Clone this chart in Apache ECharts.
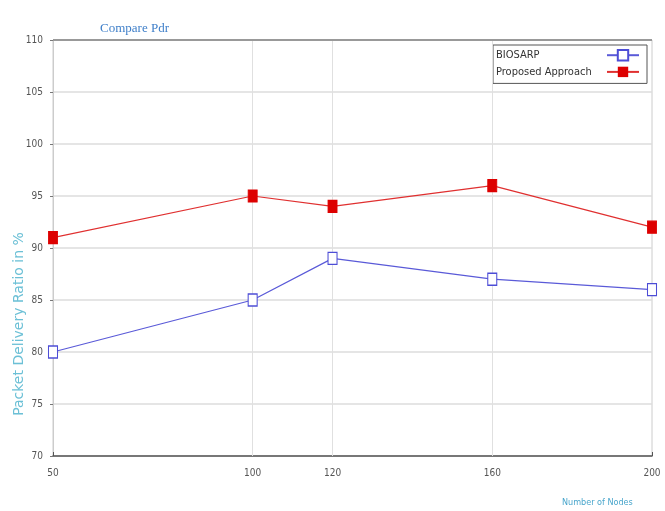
<!DOCTYPE html>
<html>
<head>
<meta charset="utf-8">
<script src="https://cdn.jsdelivr.net/npm/echarts@6/dist/echarts.min.js"></script>
<style>
  html, body { margin: 0; padding: 0; background: #fff; }
  #chart { width: 665px; height: 511px; }
</style>
</head>
<body>
<div id="chart"></div>
<script>
// Number of nodes on the x axis
const nodeCounts = [50, 100, 120, 160, 200];
// Packet delivery ratio (%) per protocol
const biosarpPdr = [80, 85, 89, 87, 86];
const proposedPdr = [91, 95, 94, 96, 92];
// Tick values
const xTicks = [50, 100, 120, 160, 200];

const narrow = '"DejaVu Sans Condensed", "Liberation Sans", sans-serif';
const pairs = (xs, ys) => xs.map((x, i) => [x, ys[i]]);

const chart = echarts.init(document.getElementById('chart'));
chart.setOption({
  animation: false,
  backgroundColor: '#ffffff',
  title: {
    text: 'Compare Pdr',
    left: 95,
    top: 17,
    textStyle: { fontFamily: 'Liberation Serif', fontWeight: 'normal', fontSize: 13, color: '#3f7fc9' }
  },
  legend: {
    left: 493,
    top: 45,
    orient: 'vertical',
    align: 'right',
    itemWidth: 32,
    itemHeight: 13,
    itemGap: 5,
    padding: [4, 7, 6, 3],
    borderColor: '#555',
    borderWidth: 1,
    backgroundColor: '#fff',
    formatter: name => '{t|' + name + '}',
    textStyle: {
      fontFamily: narrow, fontSize: 11, color: '#333',
      rich: { t: { width: 106, align: 'left', fontFamily: narrow, fontSize: 11, color: '#333' } }
    },
    data: ['BIOSARP', 'Proposed Approach']
  },
  grid: { left: 53, right: 13, top: 40, bottom: 55, show: true, borderColor: '#ccc', borderWidth: 1 },
  graphic: [
    {
      type: 'text', x: 562, y: 498, silent: true,
      style: { text: 'Number of Nodes', fill: '#4aa6cc', font: '9px ' + narrow }
    },
    {
      type: 'text', x: 19, y: 324, rotation: Math.PI / 2, silent: true,
      style: { text: 'Packet Delivery Ratio in %', fill: '#6cc0d6', font: '14px "DejaVu Sans", sans-serif', align: 'center', verticalAlign: 'middle' }
    }
  ],
  xAxis: {
    type: 'value',
    min: 50,
    max: 200,
    axisLine: { show: true, lineStyle: { color: '#555', width: 1.5 } },
    axisTick: { show: true, inside: true, length: 4, customValues: xTicks, lineStyle: { color: '#555' } },
    axisLabel: { customValues: xTicks, color: '#555', fontSize: 10, fontFamily: narrow, margin: 12 },
    splitLine: { show: false }
  },
  yAxis: {
    type: 'value',
    min: 70,
    max: 110,
    interval: 5,
    axisLine: { show: true, lineStyle: { color: '#ccc' } },
    axisTick: { show: true, inside: false, length: 3, lineStyle: { color: '#777' } },
    axisLabel: { color: '#555', fontSize: 10, fontFamily: narrow, margin: 10 },
    splitLine: { show: true, lineStyle: { color: '#dcdcdc', width: 1.5 } }
  },
  series: [
    {
      // vertical grid lines at the labelled node counts, and the top frame line
      type: 'line',
      data: [],
      silent: true,
      z: 1,
      markLine: {
        silent: true,
        symbol: 'none',
        label: { show: false },
        data: [
          ...xTicks.slice(1, 4).map(v => ({ xAxis: v, lineStyle: { color: '#e0e0e0', type: 'solid', width: 1 } })),
          { yAxis: 110, lineStyle: { color: '#999', type: 'solid', width: 2 } }
        ]
      }
    },
    {
      name: 'BIOSARP',
      type: 'line',
      zlevel: 1,
      data: pairs(nodeCounts, biosarpPdr),
      symbol: 'rect',
      symbolSize: [9, 12],
      itemStyle: { color: '#ffffff', borderColor: '#4d4dd6', borderWidth: 1.2 },
      lineStyle: { color: '#5a5ad8', width: 1.2 },
      z: 3
    },
    {
      name: 'Proposed Approach',
      type: 'line',
      zlevel: 1,
      data: pairs(nodeCounts, proposedPdr),
      symbol: 'rect',
      symbolSize: [9, 12],
      itemStyle: { color: '#dd0000', borderColor: '#dd0000' },
      lineStyle: { color: '#e03030', width: 1.2 },
      z: 4
    }
  ]
});
</script>
</body>
</html>
